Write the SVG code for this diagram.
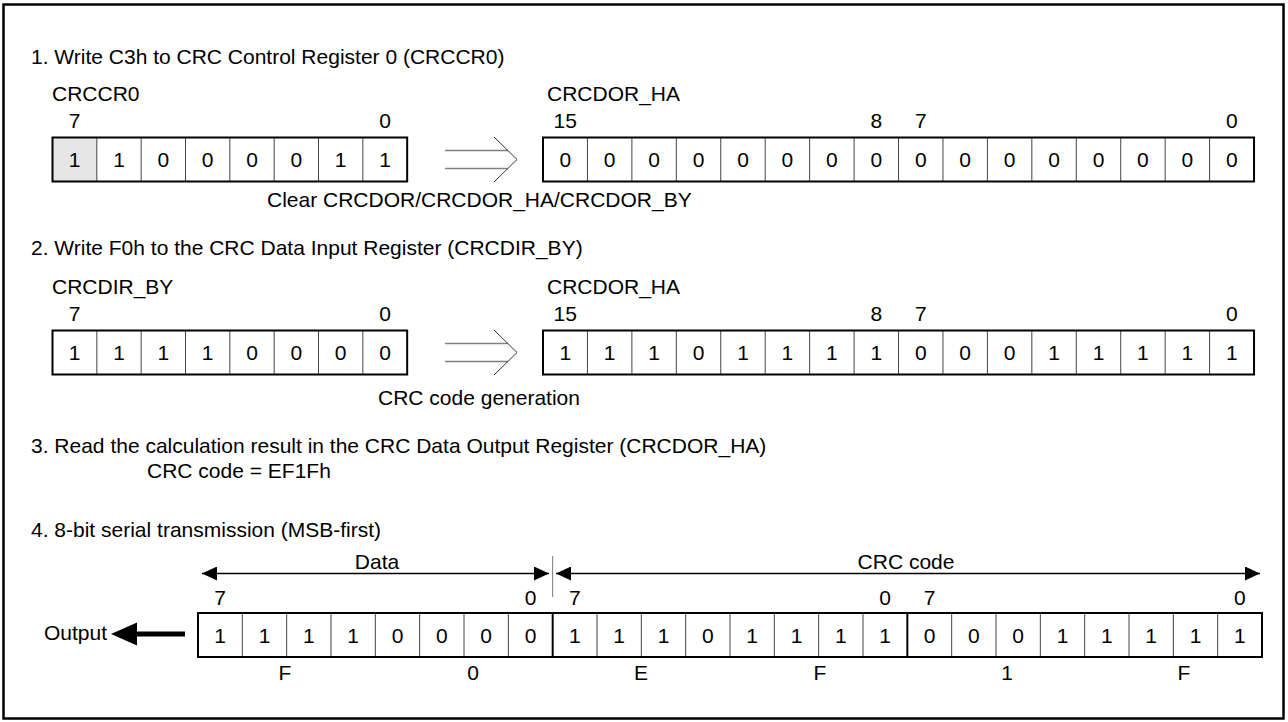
<svg xmlns="http://www.w3.org/2000/svg" width="1288" height="722" viewBox="0 0 1288 722">
<style>
text{font-family:"Liberation Sans",Arial,sans-serif;font-size:21px;fill:#000}
.m{text-anchor:middle}
.box{fill:none;stroke:#000;stroke-width:2}
.div{stroke:#444;stroke-width:1}
.byte{stroke:#000;stroke-width:2}
.dbl{stroke:#808080;stroke-width:1.5;fill:none}
.chev{stroke:#333;stroke-width:1;fill:none}
.dim{stroke:#000;stroke-width:1.3;fill:none}
.sep{stroke:#777;stroke-width:1}
</style>
<defs>
<marker id="ah" viewBox="0 0 15 14" refX="15" refY="7" markerWidth="15" markerHeight="14" markerUnits="userSpaceOnUse" orient="auto-start-reverse">
<path d="M0,0 L15,7 L0,14 z" fill="#000"/>
</marker>
</defs>
<rect x="3.5" y="4.5" width="1280" height="714" fill="#fff" stroke="#000" stroke-width="2.5"/>

<g id="heading1"><text x="31" y="64">1. Write C3h to CRC Control Register 0 (CRCCR0)</text></g>

<g id="crccr0">
<text x="52" y="101">CRCCR0</text>
<text class="m" x="74.67" y="128">7</text>
<text class="m" x="385" y="128">0</text>
<rect x="52.5" y="137.5" width="44.33" height="44" fill="#e6e6e6"/>
<path class="div" d="M96.83,137.5V181.5M141.17,137.5V181.5M185.5,137.5V181.5M229.83,137.5V181.5M274.17,137.5V181.5M318.5,137.5V181.5M362.83,137.5V181.5"/>
<rect class="box" x="52.5" y="137.5" width="354.67" height="44"/>
<text class="m" x="74.67" y="167">1</text>
<text class="m" x="119" y="167">1</text>
<text class="m" x="163.33" y="167">0</text>
<text class="m" x="207.67" y="167">0</text>
<text class="m" x="252" y="167">0</text>
<text class="m" x="296.33" y="167">0</text>
<text class="m" x="340.67" y="167">1</text>
<text class="m" x="385" y="167">1</text>
</g>

<g id="crcdor_ha_1">
<text x="547" y="101">CRCDOR_HA</text>
<text class="m" x="565.22" y="128">15</text>
<text class="m" x="876.3" y="128">8</text>
<text class="m" x="920.74" y="128">7</text>
<text class="m" x="1231.82" y="128">0</text>
<path class="div" d="M587.44,137.5V181.5M631.88,137.5V181.5M676.32,137.5V181.5M720.76,137.5V181.5M765.2,137.5V181.5M809.64,137.5V181.5M854.08,137.5V181.5M898.52,137.5V181.5M942.96,137.5V181.5M987.4,137.5V181.5M1031.84,137.5V181.5M1076.28,137.5V181.5M1120.72,137.5V181.5M1165.16,137.5V181.5M1209.6,137.5V181.5"/>
<rect class="box" x="543" y="137.5" width="711.04" height="44"/>
<text class="m" x="565.22" y="167">0</text>
<text class="m" x="609.66" y="167">0</text>
<text class="m" x="654.1" y="167">0</text>
<text class="m" x="698.54" y="167">0</text>
<text class="m" x="742.98" y="167">0</text>
<text class="m" x="787.42" y="167">0</text>
<text class="m" x="831.86" y="167">0</text>
<text class="m" x="876.3" y="167">0</text>
<text class="m" x="920.74" y="167">0</text>
<text class="m" x="965.18" y="167">0</text>
<text class="m" x="1009.62" y="167">0</text>
<text class="m" x="1054.06" y="167">0</text>
<text class="m" x="1098.5" y="167">0</text>
<text class="m" x="1142.94" y="167">0</text>
<text class="m" x="1187.38" y="167">0</text>
<text class="m" x="1231.82" y="167">0</text>
</g>

<g id="caption1"><text x="267" y="207">Clear CRCDOR/CRCDOR_HA/CRCDOR_BY</text></g>

<g id="heading2"><text x="31" y="255">2. Write F0h to the CRC Data Input Register (CRCDIR_BY)</text></g>

<g id="crcdir_by">
<text x="52" y="294">CRCDIR_BY</text>
<text class="m" x="74.67" y="321">7</text>
<text class="m" x="385" y="321">0</text>
<path class="div" d="M96.83,330.5V374.5M141.17,330.5V374.5M185.5,330.5V374.5M229.83,330.5V374.5M274.17,330.5V374.5M318.5,330.5V374.5M362.83,330.5V374.5"/>
<rect class="box" x="52.5" y="330.5" width="354.67" height="44"/>
<text class="m" x="74.67" y="360">1</text>
<text class="m" x="119" y="360">1</text>
<text class="m" x="163.33" y="360">1</text>
<text class="m" x="207.67" y="360">1</text>
<text class="m" x="252" y="360">0</text>
<text class="m" x="296.33" y="360">0</text>
<text class="m" x="340.67" y="360">0</text>
<text class="m" x="385" y="360">0</text>
</g>

<g id="crcdor_ha_2">
<text x="547" y="294">CRCDOR_HA</text>
<text class="m" x="565.22" y="321">15</text>
<text class="m" x="876.3" y="321">8</text>
<text class="m" x="920.74" y="321">7</text>
<text class="m" x="1231.82" y="321">0</text>
<path class="div" d="M587.44,330.5V374.5M631.88,330.5V374.5M676.32,330.5V374.5M720.76,330.5V374.5M765.2,330.5V374.5M809.64,330.5V374.5M854.08,330.5V374.5M898.52,330.5V374.5M942.96,330.5V374.5M987.4,330.5V374.5M1031.84,330.5V374.5M1076.28,330.5V374.5M1120.72,330.5V374.5M1165.16,330.5V374.5M1209.6,330.5V374.5"/>
<rect class="box" x="543" y="330.5" width="711.04" height="44"/>
<text class="m" x="565.22" y="360">1</text>
<text class="m" x="609.66" y="360">1</text>
<text class="m" x="654.1" y="360">1</text>
<text class="m" x="698.54" y="360">0</text>
<text class="m" x="742.98" y="360">1</text>
<text class="m" x="787.42" y="360">1</text>
<text class="m" x="831.86" y="360">1</text>
<text class="m" x="876.3" y="360">1</text>
<text class="m" x="920.74" y="360">0</text>
<text class="m" x="965.18" y="360">0</text>
<text class="m" x="1009.62" y="360">0</text>
<text class="m" x="1054.06" y="360">1</text>
<text class="m" x="1098.5" y="360">1</text>
<text class="m" x="1142.94" y="360">1</text>
<text class="m" x="1187.38" y="360">1</text>
<text class="m" x="1231.82" y="360">1</text>
</g>

<g id="caption2"><text x="378" y="404.5">CRC code generation</text></g>

<g id="heading3">
<text x="31" y="453">3. Read the calculation result in the CRC Data Output Register (CRCDOR_HA)</text>
<text x="147" y="478">CRC code = EF1Fh</text>
</g>

<g id="heading4"><text x="31" y="537">4. 8-bit serial transmission (MSB-first)</text></g>

<g id="serial">
<text class="m" x="377" y="569">Data</text>
<text class="m" x="906" y="569">CRC code</text>
<text class="m" x="220.17" y="605">7</text>
<text class="m" x="530.5" y="605">0</text>
<text class="m" x="574.83" y="605">7</text>
<text class="m" x="885.17" y="605">0</text>
<text class="m" x="929.5" y="605">7</text>
<text class="m" x="1239.83" y="605">0</text>
<path class="div" d="M242.33,613V657M286.67,613V657M331,613V657M375.33,613V657M419.67,613V657M464,613V657M508.33,613V657M597,613V657M641.33,613V657M685.67,613V657M730,613V657M774.33,613V657M818.67,613V657M863,613V657M951.67,613V657M996,613V657M1040.33,613V657M1084.67,613V657M1129,613V657M1173.33,613V657M1217.67,613V657"/>
<path class="byte" d="M552.67,613V657M907.33,613V657"/>
<rect class="box" x="198" y="613" width="1064" height="44"/>
<text class="m" x="220.17" y="642.5">1</text>
<text class="m" x="264.5" y="642.5">1</text>
<text class="m" x="308.83" y="642.5">1</text>
<text class="m" x="353.17" y="642.5">1</text>
<text class="m" x="397.5" y="642.5">0</text>
<text class="m" x="441.83" y="642.5">0</text>
<text class="m" x="486.17" y="642.5">0</text>
<text class="m" x="530.5" y="642.5">0</text>
<text class="m" x="574.83" y="642.5">1</text>
<text class="m" x="619.17" y="642.5">1</text>
<text class="m" x="663.5" y="642.5">1</text>
<text class="m" x="707.83" y="642.5">0</text>
<text class="m" x="752.17" y="642.5">1</text>
<text class="m" x="796.5" y="642.5">1</text>
<text class="m" x="840.83" y="642.5">1</text>
<text class="m" x="885.17" y="642.5">1</text>
<text class="m" x="929.5" y="642.5">0</text>
<text class="m" x="973.83" y="642.5">0</text>
<text class="m" x="1018.17" y="642.5">0</text>
<text class="m" x="1062.5" y="642.5">1</text>
<text class="m" x="1106.83" y="642.5">1</text>
<text class="m" x="1151.17" y="642.5">1</text>
<text class="m" x="1195.5" y="642.5">1</text>
<text class="m" x="1239.83" y="642.5">1</text>
<text class="m" x="285" y="680">F</text>
<text class="m" x="473" y="680">0</text>
<text class="m" x="641" y="680">E</text>
<text class="m" x="820" y="680">F</text>
<text class="m" x="1007" y="680">1</text>
<text class="m" x="1184" y="680">F</text>
</g>

<g id="output"><text x="44" y="640">Output</text></g>

<g id="connectors">
<path class="dbl" d="M445,150.5H508M445,168.5H508"/>
<path class="chev" d="M494,137L517,159.5L494,182"/>
<path class="dbl" d="M445,343.5H508M445,361.5H508"/>
<path class="chev" d="M494,330L517,352.5L494,375"/>
<line class="sep" x1="552.67" y1="556" x2="552.67" y2="597"/>
<line class="dim" x1="202" y1="573.5" x2="549" y2="573.5" marker-start="url(#ah)" marker-end="url(#ah)"/>
<line class="dim" x1="556" y1="573.5" x2="1260" y2="573.5" marker-start="url(#ah)" marker-end="url(#ah)"/>
<line x1="185" y1="634" x2="132" y2="634" stroke="#000" stroke-width="5"/>
<polygon points="111,634 137,622.5 137,645.5" fill="#000"/>
</g>
</svg>
